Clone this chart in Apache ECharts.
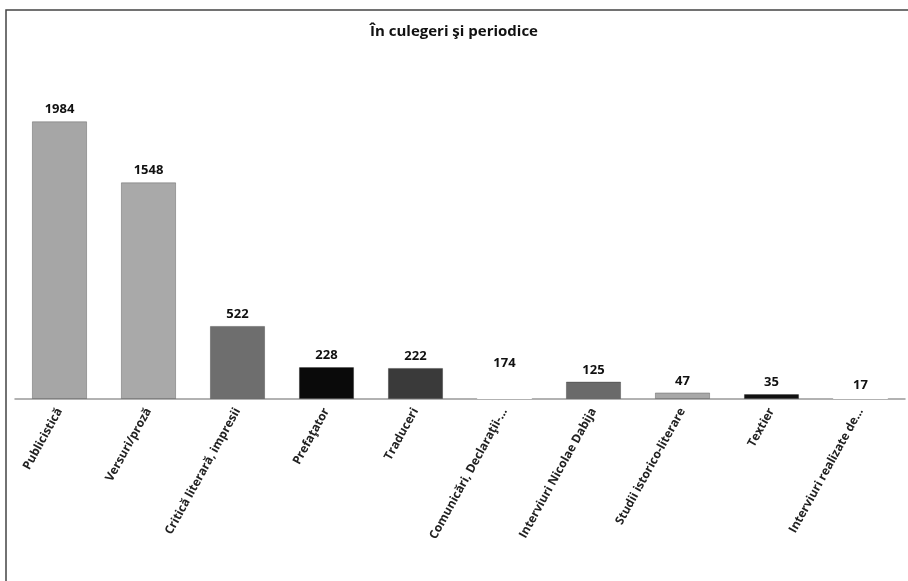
<!DOCTYPE html>
<html>
<head>
<meta charset="utf-8">
<script src="https://cdn.jsdelivr.net/npm/echarts@6/dist/echarts.min.js"></script>
<style>
html,body{margin:0;padding:0;background:#fff;}
#chart{width:908px;height:581px;}
</style>
</head>
<body>
<div id="chart"></div>
<script>
const categories = ["Publicistică","Versuri/proză","Critică literară, impresii","Prefaţator","Traduceri","Comunicări, Declaraţii-...","Interviuri Nicolae Dabija","Studii istorico-literare","Textier","Interviuri realizate de..."];
const values = [1984,1548,522,228,222,174,125,47,35,17];
const barColors = ["#a6a6a6","#a9a9a9","#6e6e6e","#0a0a0a","#3a3a3a","#ffffff","#6a6a6a","#a8a8a8","#111111","#ffffff"];
const titleText = "În culegeri şi periodice";

const chart = echarts.init(document.getElementById('chart'));
chart.setOption({
  animation:false,
  backgroundColor:'#fff',
  title:{text:titleText,left:'center',top:19,textStyle:{fontFamily:'Open Sans',fontWeight:'bold',fontSize:15,color:'#111'}},
  graphic:[{type:'rect',shape:{x:6,y:10,width:1000,height:700},style:{fill:'none',stroke:'#444',lineWidth:1.5},silent:true}],
  grid:{left:15,right:3,top:49,bottom:182,containLabel:false},
  xAxis:{type:'category',data:categories,
    axisLine:{lineStyle:{color:'#999',width:1.5}},
    axisTick:{show:false},
    axisLabel:{rotate:61,interval:0,margin:10,fontFamily:'Open Sans',fontWeight:'bold',fontSize:12,color:'#222'}},
  yAxis:{type:'value',min:0,max:2500,show:false,splitLine:{show:false}},
  series:[{type:'bar',barCategoryGap:'38%',
    data:values.map((v,i)=>({value:v,itemStyle:{color:barColors[i],borderColor:barColors[i]==='#ffffff'?'#ffffff':'rgba(0,0,0,0.25)',borderWidth:1}})),
    label:{show:true,position:'top',distance:5,fontFamily:'Open Sans',fontWeight:'bold',fontSize:13,color:'#111'}}]
});
</script>
</body>
</html>
